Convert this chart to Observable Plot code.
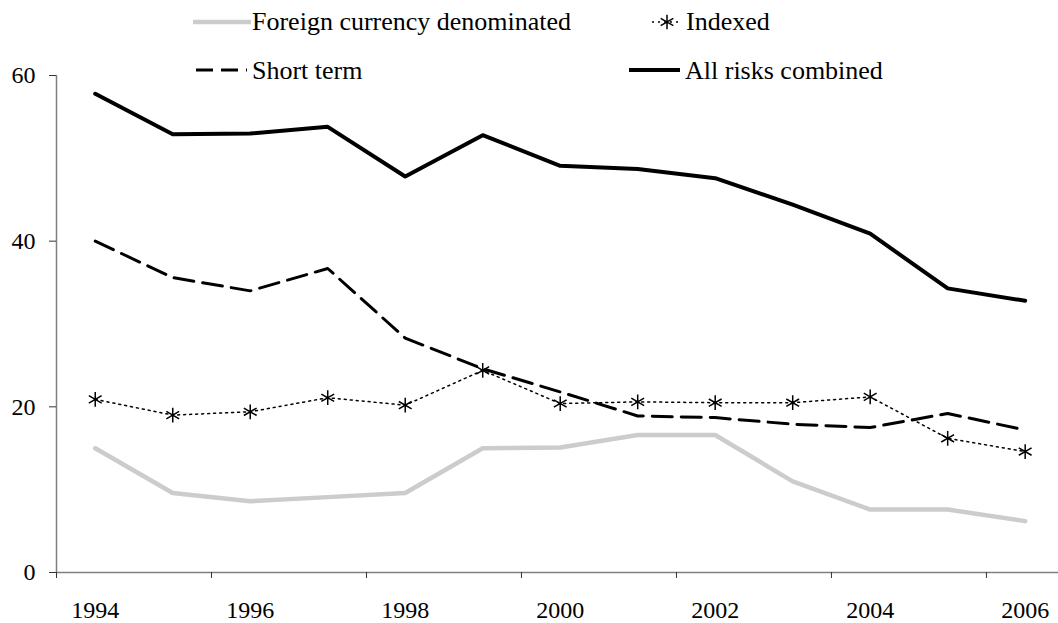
<!DOCTYPE html>
<html>
<head>
<meta charset="utf-8">
<script src="https://cdn.jsdelivr.net/npm/d3@7"></script>
<script src="https://cdn.jsdelivr.net/npm/@observablehq/plot@0.6"></script>
<style>
  html, body { margin: 0; padding: 0; background: #fff; }
  #wrap { position: relative; width: 1058px; height: 623px; font-family: "Liberation Serif", Tinos, "Times New Roman", serif; }
  #legend { position: absolute; left: 0; top: 0; width: 1058px; height: 100px; pointer-events: none; }
  #chart { position: absolute; left: 0; top: 0; }
  svg text { font-family: "Liberation Serif", Tinos, "Times New Roman", serif !important; }
</style>
</head>
<body>
<div id="wrap">
  <div id="chart"></div>
  <svg id="legend" width="1058" height="100"></svg>
</div>
<script>
// ---- data ----
const years = [1994, 1995, 1996, 1997, 1998, 1999, 2000, 2001, 2002, 2003, 2004, 2005, 2006];
const foreign = [15.0, 9.6, 8.6, 9.1, 9.6, 15.0, 15.1, 16.6, 16.6, 11.0, 7.6, 7.6, 6.2];
const indexed = [20.9, 19.0, 19.4, 21.1, 20.2, 24.4, 20.4, 20.6, 20.5, 20.5, 21.2, 16.2, 14.6];
const shortTerm = [40.0, 35.6, 34.0, 36.7, 28.3, 24.6, 21.8, 18.9, 18.7, 17.9, 17.5, 19.2, 17.2];
const allRisks = [57.8, 52.9, 53.0, 53.8, 47.8, 52.8, 49.1, 48.7, 47.6, 44.4, 40.9, 34.3, 32.8];
const seriesNames = ["Foreign currency denominated", "Indexed", "Short term", "All risks combined"];
const yTicks = [0, 20, 40, 60];
const xLabelYears = [1994, 1996, 1998, 2000, 2002, 2004, 2006];

const rows = (vals) => years.map((y, i) => ({year: y, value: vals[i]}));
const fData = rows(foreign), iData = rows(indexed), sData = rows(shortTerm), aData = rows(allRisks);
const boundaryTicks = xLabelYears.map(y => y - 0.5);

const axisColor = "#7f7f7f";
const font = "'Liberation Serif', Tinos, 'Times New Roman', serif";
const plot = Plot.plot({
  width: 1058,
  height: 623,
  marginTop: 75,
  marginBottom: 51,
  marginLeft: 56,
  marginRight: 0,
  style: {fontFamily: font, fontSize: "24px", color: "#000", background: "transparent"},
  x: {type: "linear", domain: [1993.5, 2006.43], label: null},
  y: {domain: [0, 60], label: null},
  marks: [
    Plot.ruleY([0], {stroke: axisColor, strokeWidth: 1.5}),
    Plot.ruleX([1993.5], {y1: 0, y2: 60, stroke: axisColor, strokeWidth: 1.5}),
    Plot.axisY({ticks: yTicks, tickSize: 7, tickPadding: 14, fontSize: 24, stroke: "#333", label: null, tickFormat: d => String(d)}),
    Plot.axisX({ticks: boundaryTicks, tickSize: 6, tickFormat: () => "", stroke: "#333", label: null}),
    Plot.axisX({ticks: xLabelYears, tickSize: 0, tickPadding: 28, fontSize: 24, label: null, tickFormat: d => String(d)}),
    Plot.line(fData, {x: "year", y: "value", stroke: "#cccccc", strokeWidth: 4.5}),
    Plot.line(sData, {x: "year", y: "value", stroke: "#000", strokeWidth: 3, strokeDasharray: "20,9"}),
    Plot.line(iData, {x: "year", y: "value", stroke: "#000", strokeWidth: 1.5, strokeDasharray: "2,4"}),
    Plot.dot(iData, {x: "year", y: "value", symbol: "asterisk", r: 7, stroke: "#000", strokeWidth: 1.5}),
    Plot.line(aData, {x: "year", y: "value", stroke: "#000", strokeWidth: 4})
  ]
});
document.getElementById("chart").appendChild(plot);

// ---- legend ----
const lg = d3.select("#legend");
const items = [
  {name: seriesNames[0], x1: 193, x2: 251, y: 22, tx: 252, ty: 30, stroke: "#cccccc", w: 4.5, dash: null, star: false},
  {name: seriesNames[1], x1: 652, x2: 682, y: 22, tx: 686, ty: 30, stroke: "#000", w: 1.5, dash: "2,4", star: true},
  {name: seriesNames[2], x1: 196, x2: 247, y: 70, tx: 252, ty: 79, stroke: "#000", w: 3, dash: "17,8", star: false},
  {name: seriesNames[3], x1: 629, x2: 680, y: 70, tx: 685, ty: 79, stroke: "#000", w: 4, dash: null, star: false}
];
for (const it of items) {
  lg.append("line").attr("x1", it.x1).attr("x2", it.x2).attr("y1", it.y).attr("y2", it.y)
    .attr("stroke", it.stroke).attr("stroke-width", it.w).attr("stroke-dasharray", it.dash);
  if (it.star) {
    lg.append("path").attr("transform", `translate(${(it.x1 + it.x2) / 2},${it.y})`)
      .attr("d", d3.symbol(d3.symbolAsterisk, 150)()).attr("stroke", "#000").attr("stroke-width", 1.5).attr("fill", "none");
  }
  lg.append("text").attr("x", it.tx).attr("y", it.ty).attr("font-size", 26)
    .attr("fill", "#000").text(it.name);
}
</script>
</body>
</html>
